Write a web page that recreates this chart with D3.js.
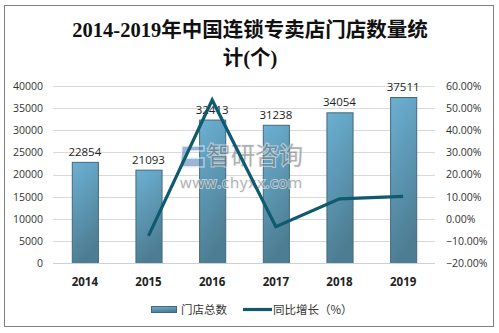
<!DOCTYPE html>
<html>
<head>
<meta charset="utf-8">
<script src="https://cdn.jsdelivr.net/npm/d3@7"></script>
<style>
  html, body { margin: 0; padding: 0; background: #fff; }
  svg { display: block; }
</style>
</head>
<body>
<script>
// Store counts and year-on-year growth, 2014-2019
const years = ["2014", "2015", "2016", "2017", "2018", "2019"];
const storeCounts = [22854, 21093, 32413, 31238, 34054, 37511];
const growthRates = [null, -7.71, 53.67, -3.63, 9.01, 10.15];
const leftTicks = [0, 5000, 10000, 15000, 20000, 25000, 30000, 35000, 40000];
const rightTicks = [-20, -10, 0, 10, 20, 30, 40, 50, 60];
const titleLines = ["2014-2019年中国连锁专卖店门店数量统", "计(个)"];
const legendLabels = ["门店总数", "同比增长（%）"];

const W = 499, H = 333;
const plot = { left: 53, right: 435, top: 86, bottom: 263 };
const sans = "'Open Sans', 'Noto Sans CJK SC', sans-serif";
const cjk = "'Noto Sans CJK SC', sans-serif";

const svg = d3.select("body").append("svg").attr("width", W).attr("height", H);

// Outer frame
svg.append("rect").attr("x", 4.5).attr("y", 5.5).attr("width", 489).attr("height", 321)
  .attr("fill", "#fff").attr("stroke", "#808080").attr("stroke-width", 1);

// Title
svg.append("g").selectAll("text").data(titleLines).join("text")
  .attr("x", 250).attr("y", (d, i) => 37 + i * 28)
  .attr("text-anchor", "middle")
  .attr("font-family", "'Liberation Serif', 'Noto Sans CJK SC', serif")
  .attr("font-weight", 600).attr("font-size", 20.5).attr("fill", "#111")
  .text(d => d);

const x = d3.scaleBand().domain(years).range([plot.left, plot.right]).paddingInner(0.59).paddingOuter(0.295);
const yL = d3.scaleLinear().domain([0, 40000]).range([plot.bottom, plot.top]);
const yR = d3.scaleLinear().domain([-20, 60]).range([plot.bottom, plot.top]);

// Gridlines
svg.append("g").selectAll("line").data(leftTicks.slice(1)).join("line")
  .attr("x1", plot.left).attr("x2", plot.right)
  .attr("y1", d => Math.round(yL(d)) + 0.5).attr("y2", d => Math.round(yL(d)) + 0.5)
  .attr("stroke", "#d9d9d9").attr("stroke-width", 1);

// Left axis
const axL = svg.append("g").attr("transform", `translate(${plot.left},0)`)
  .call(d3.axisLeft(yL).tickValues(leftTicks).tickSize(0).tickPadding(10).tickFormat(d3.format("d")));
axL.select(".domain").remove();
axL.selectAll("text").attr("font-family", sans).attr("font-size", 10.5).attr("fill", "#333");

// Right axis
const axR = svg.append("g").attr("transform", `translate(${plot.right},0)`)
  .call(d3.axisRight(yR).tickValues(rightTicks).tickSize(0).tickPadding(11).tickFormat(d => d3.format(".2f")(d) + "%"));
axR.select(".domain").remove();
axR.selectAll("text").attr("font-family", sans).attr("font-size", 10.5).attr("fill", "#333");

// Bar fill
const defs = svg.append("defs");
const grad = defs.append("linearGradient").attr("id", "barFill")
  .attr("x1", 0).attr("y1", 0).attr("x2", 0.25).attr("y2", 1);
grad.append("stop").attr("offset", "0%").attr("stop-color", "#6cb0d3");
grad.append("stop").attr("offset", "100%").attr("stop-color", "#4d7d92");

// Bars
svg.append("g").selectAll("rect").data(storeCounts).join("rect")
  .attr("x", (d, i) => x(years[i]) + 0.5)
  .attr("y", d => yL(d) + 0.5)
  .attr("width", x.bandwidth())
  .attr("height", d => plot.bottom - yL(d))
  .attr("fill", "url(#barFill)")
  .attr("stroke", "#41697c").attr("stroke-width", 1);

// Watermark, laid over the bars with a pale halo
const wm = svg.append("g").attr("opacity", 0.6);
wm.append("path").attr("d", "M182,146 h22 v5 h-15 l-3,7 h18 v9 h-24 z")
  .attr("fill", "#5a86b8").attr("stroke", "#e8eef4").attr("stroke-width", 1.5);
wm.append("text").attr("x", 207).attr("y", 164).attr("font-family", cjk).attr("font-size", 24)
  .attr("fill", "#7d7d7d").attr("stroke", "#eef2f5").attr("stroke-width", 2)
  .attr("paint-order", "stroke").text("智研咨询");
wm.append("text").attr("x", 180).attr("y", 188).attr("font-family", sans).attr("font-size", 15)
  .attr("letter-spacing", 0.8).attr("fill", "#7d7d7d").attr("stroke", "#eef2f5").attr("stroke-width", 2)
  .attr("paint-order", "stroke").text("www.chyxx.com");

// Bottom axis line
svg.append("line").attr("x1", plot.left).attr("x2", plot.right)
  .attr("y1", plot.bottom + 0.5).attr("y2", plot.bottom + 0.5)
  .attr("stroke", "#d0d0d0");

// Bar value labels
svg.append("g").selectAll("text").data(storeCounts).join("text")
  .attr("x", (d, i) => x(years[i]) + x.bandwidth() / 2)
  .attr("y", d => yL(d) - 6)
  .attr("text-anchor", "middle")
  .attr("font-family", sans).attr("font-size", 11.5).attr("fill", "#222")
  .text(d => d);

// Growth line
const pts = growthRates.map((g, i) => [years[i], g]).filter(p => p[1] !== null);
svg.append("path").datum(pts)
  .attr("d", d3.line().x(p => x(p[0]) + x.bandwidth() / 2).y(p => yR(p[1])))
  .attr("fill", "none").attr("stroke", "#0f5a6f").attr("stroke-width", 3.2)
  .attr("stroke-linejoin", "miter");

// Category labels
svg.append("g").selectAll("text").data(years).join("text")
  .attr("x", d => x(d) + x.bandwidth() / 2)
  .attr("y", 286)
  .attr("text-anchor", "middle")
  .attr("font-family", sans).attr("font-weight", "bold").attr("font-size", 11.5).attr("fill", "#222")
  .text(d => d);

// Legend
const lg = svg.append("g");
lg.append("rect").attr("x", 151.5).attr("y", 306.5).attr("width", 25).attr("height", 6)
  .attr("fill", "url(#barFill)").attr("stroke", "#41697c");
lg.append("text").attr("x", 181).attr("y", 314).attr("font-family", cjk).attr("font-size", 11.5)
  .attr("fill", "#333").text(legendLabels[0]);
lg.append("line").attr("x1", 243).attr("x2", 272).attr("y1", 309.5).attr("y2", 309.5)
  .attr("stroke", "#0f5a6f").attr("stroke-width", 3.2);
lg.append("text").attr("x", 273).attr("y", 314).attr("font-family", cjk).attr("font-size", 11.5)
  .attr("fill", "#333").text(legendLabels[1]);
</script>
</body>
</html>
